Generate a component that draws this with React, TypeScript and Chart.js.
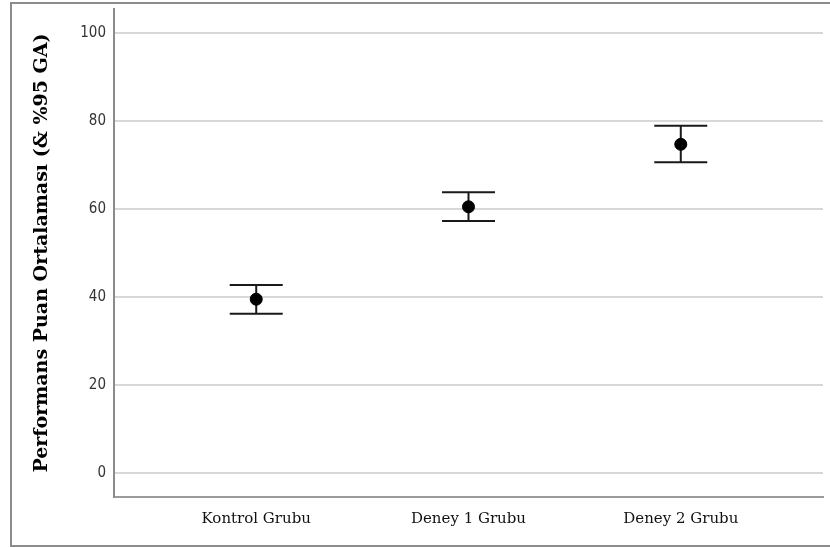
import React, { useEffect, useRef } from "react";
import { Chart, registerables } from "chart.js";

Chart.register(...registerables);

const categories = ["Kontrol Grubu", "Deney 1 Grubu", "Deney 2 Grubu"];
const means = [39.5, 60.5, 74.7];
const ciLower = [36.2, 57.3, 70.6];
const ciUpper = [42.7, 63.8, 78.9];
const yTicks = [0, 20, 40, 60, 80, 100];
const yTitle = "Performans Puan Ortalaması (& %95 GA)";

const errorBarPlugin = {
  id: "errorBars",
  beforeDatasetsDraw(chart: any) {
    const { ctx, scales } = chart;
    const xs = scales.x;
    const ys = scales.y;
    ctx.save();
    ctx.strokeStyle = "#1a1a1a";
    ctx.lineWidth = 2;
    const half = 26.5;
    categories.forEach((_, i) => {
      const x = xs.getPixelForValue(i + 1);
      const yl = ys.getPixelForValue(ciLower[i]);
      const yu = ys.getPixelForValue(ciUpper[i]);
      ctx.beginPath();
      ctx.moveTo(x, yl);
      ctx.lineTo(x, yu);
      ctx.moveTo(x - half, yl);
      ctx.lineTo(x + half, yl);
      ctx.moveTo(x - half, yu);
      ctx.lineTo(x + half, yu);
      ctx.stroke();
    });
    ctx.restore();
  },
};

const framePlugin = {
  id: "frame",
  beforeDraw(chart: any) {
    const { ctx } = chart;
    ctx.save();
    ctx.fillStyle = "#ffffff";
    ctx.fillRect(0, 0, chart.width, chart.height);
    ctx.strokeStyle = "#8c8c8c";
    ctx.lineWidth = 2;
    ctx.strokeRect(11, 3, 840, 543);
    ctx.restore();
  },
};

export default function App() {
  const ref = useRef<HTMLCanvasElement>(null);
  useEffect(() => {
    if (!ref.current) return;
    const chart = new Chart(ref.current, {
      type: "scatter",
      data: {
        datasets: [
          {
            data: means.map((m, i) => ({ x: i + 1, y: m })),
            backgroundColor: "#000000",
            borderColor: "#000000",
            pointRadius: 6,
            pointHoverRadius: 6,
          },
        ],
      },
      options: {
        animation: false,
        responsive: false,
        events: [],
        layout: { padding: { left: 11, top: 9, right: 5, bottom: 0 } },
        plugins: { legend: { display: false }, tooltip: { enabled: false } },
        scales: {
          x: {
            type: "linear",
            min: 0.33,
            max: 3.67,
            afterBuildTicks: (s: any) => {
              s.ticks = categories.map((_, i) => ({ value: i + 1 }));
            },
            afterFit: (s: any) => {
              s.height = 50;
              s.paddingLeft = 0;
              s.paddingRight = 0;
            },
            grid: { display: false, drawTicks: false },
            border: { display: true, color: "#9a9a9a", width: 2 },
            ticks: {
              padding: 13,
              color: "#111111",
              font: { family: "DejaVu Serif", size: 15 },
              callback: (v: any) => categories[Math.round(v) - 1] ?? "",
              maxRotation: 0,
              autoSkip: false,
            },
          },
          y: {
            min: -5.45,
            max: 105.45,
            afterBuildTicks: (s: any) => {
              s.ticks = yTicks.map((v) => ({ value: v }));
            },
            afterFit: (s: any) => {
              s.width = 103;
              s.paddingTop = 0;
              s.paddingBottom = 0;
            },
            grid: { color: "#d8d8d8", lineWidth: 2, drawTicks: false },
            border: { display: true, color: "#8a8a8a", width: 2 },
            ticks: {
              padding: 8,
              color: "#333333",
              font: { family: "DejaVu Sans Condensed", size: 15 },
            },
            title: {
              display: true,
              text: yTitle,
              color: "#000000",
              font: { family: "DejaVu Serif", size: 19, weight: "bold" },
              padding: { top: 20, bottom: 0 },
            },
          },
        },
      },
      plugins: [framePlugin, errorBarPlugin],
    });
    return () => chart.destroy();
  }, []);
  return (
    <div style={{ position: "absolute", left: 0, top: 0, width: 830, height: 547 }}>
      <canvas ref={ref} width={830} height={547} />
    </div>
  );
}
